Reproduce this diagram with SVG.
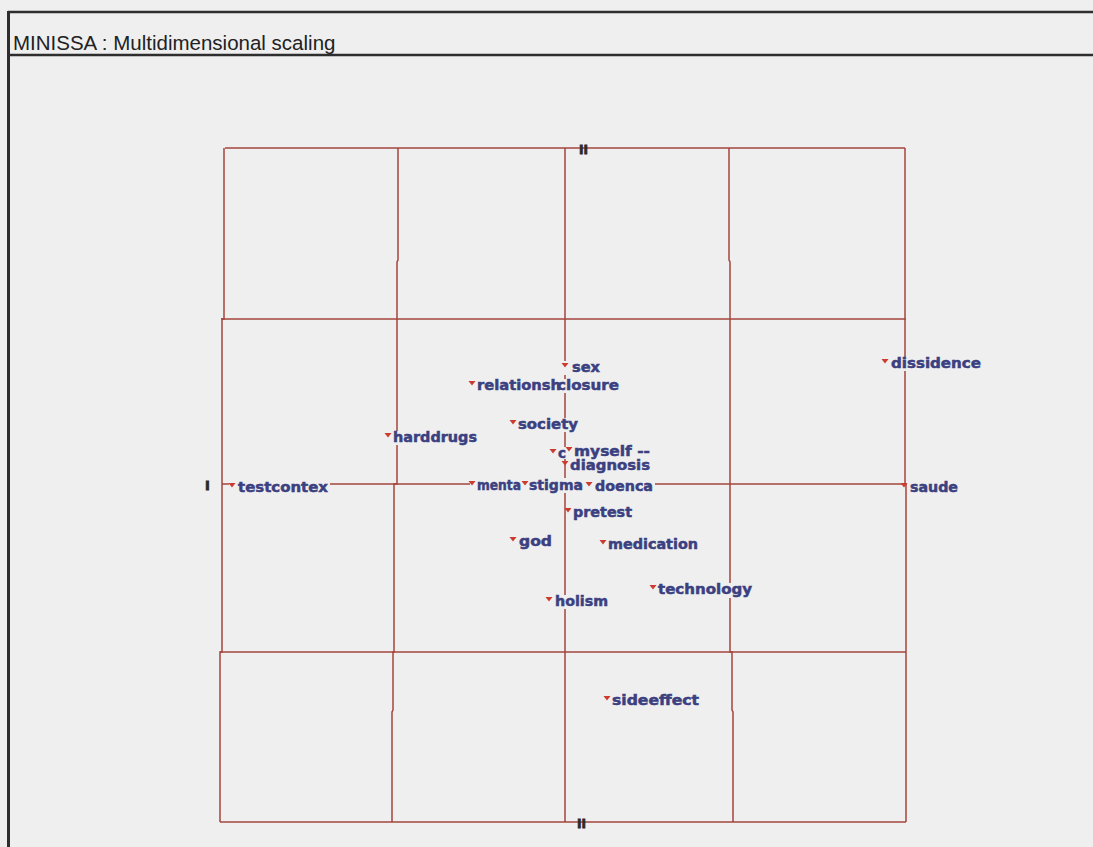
<svg xmlns="http://www.w3.org/2000/svg" xmlns:xlink="http://www.w3.org/1999/xlink" width="1093" height="847" viewBox="0 0 1093 847">
<style>
.frame{stroke:#2e2e2e;stroke-width:2.5;fill:none}
.grid{stroke:#a5453c;stroke-width:1.5;fill:none}
.lbl{font-family:"DejaVu Sans","Liberation Sans",sans-serif;font-weight:bold;font-size:14px;fill:#3b4080;stroke:#3b4080;stroke-width:0.5}
.bg{fill:#efefef}
.mk{fill:#cc3b2e}
.ax{font-family:"DejaVu Sans",sans-serif;font-weight:bold;font-size:13px;fill:#2a2a2a;stroke:#2a2a2a;stroke-width:0.8}
.title{font-family:"Liberation Sans",Arial,sans-serif;font-size:20.5px;fill:#222}
</style>
<defs>
<path id="m" d="M-3.5,0 L3.5,0 L0,4.5 Z" class="mk"/>
</defs>
<rect x="0" y="0" width="1093" height="847" fill="#efefef"/>
<g id="window">
<line class="frame" x1="8" y1="12" x2="1093" y2="12"/>
<line class="frame" x1="8" y1="55" x2="1093" y2="55"/>
<line class="frame" x1="8.5" y1="11" x2="8.5" y2="847" style="stroke-width:3"/>
<text class="title" x="13" y="50">MINISSA : Multidimensional scaling</text>
</g>
<g id="connectors">
<polyline class="grid" points="225,148 905,148"/>
<polyline class="grid" points="221,319 906,319"/>
<polyline class="grid" points="222,484 905,484"/>
<polyline class="grid" points="220,652 906,652"/>
<polyline class="grid" points="220,822 906,822"/>
<polyline class="grid" points="224,148 224,319 222,319 222,652 220,652 220,822"/>
<polyline class="grid" points="398,148 398,260 397,262 397,484 394,484 394,652 393,652 393,710 392,712 392,822"/>
<polyline class="grid" points="565,148 565,822"/>
<polyline class="grid" points="729,148 729,260 730,262 730,652 732,652 732,710 733,712 733,822"/>
<polyline class="grid" points="905,148 905,484 906,484 906,822"/>
</g>
<g id="axes">
<text class="ax" x="579" y="154" textLength="9" lengthAdjust="spacingAndGlyphs">II</text>
<text class="ax" x="577" y="828" textLength="9" lengthAdjust="spacingAndGlyphs">II</text>
<text class="ax" x="205" y="490">I</text>
</g>
<g id="node-sex"><rect class="bg" x="562" y="361" width="40" height="14"/><use href="#m" x="565" y="363"/><text class="lbl" x="572" y="372" textLength="28" lengthAdjust="spacingAndGlyphs">sex</text></g>
<g id="node-relationsh"><rect class="bg" x="469" y="379" width="94" height="14"/><use href="#m" x="472" y="381"/><text class="lbl" x="477" y="390" textLength="84" lengthAdjust="spacingAndGlyphs">relationsh</text></g>
<g id="node-closure"><rect class="bg" x="560" y="379" width="60" height="14"/><text class="lbl" x="557" y="390" textLength="62" lengthAdjust="spacingAndGlyphs">closure</text></g>
<g id="node-dissidence"><rect class="bg" x="882" y="357" width="101" height="14"/><use href="#m" x="885" y="359"/><text class="lbl" x="891" y="368" textLength="90" lengthAdjust="spacingAndGlyphs">dissidence</text></g>
<g id="node-society"><rect class="bg" x="510" y="418" width="70" height="14"/><use href="#m" x="513" y="420"/><text class="lbl" x="518" y="429" textLength="60" lengthAdjust="spacingAndGlyphs">society</text></g>
<g id="node-harddrugs"><rect class="bg" x="385" y="431" width="94" height="14"/><use href="#m" x="388" y="433"/><text class="lbl" x="393" y="442" textLength="84" lengthAdjust="spacingAndGlyphs">harddrugs</text></g>
<g id="node-c"><rect class="bg" x="550" y="447" width="18" height="12"/><use href="#m" x="553" y="449"/><text class="lbl" x="558" y="458" textLength="8" lengthAdjust="spacingAndGlyphs">c</text></g>
<g id="node-myself"><rect class="bg" x="566" y="445" width="86" height="13"/><use href="#m" x="569" y="447"/><text class="lbl" x="574" y="456" textLength="76" lengthAdjust="spacingAndGlyphs">myself --</text></g>
<g id="node-diagnosis"><rect class="bg" x="568" y="460" width="84" height="13"/><use href="#m" x="565" y="461"/><text class="lbl" x="570" y="470" textLength="80" lengthAdjust="spacingAndGlyphs">diagnosis</text></g>
<g id="node-testcontex"><rect class="bg" x="229" y="479" width="101" height="15"/><use href="#m" x="232" y="483"/><text class="lbl" x="238" y="492" textLength="90" lengthAdjust="spacingAndGlyphs">testcontex</text></g>
<g id="node-menta"><rect class="bg" x="470" y="478" width="183" height="15"/><use href="#m" x="472" y="481"/><text class="lbl" x="477" y="490" textLength="44" lengthAdjust="spacingAndGlyphs">menta</text></g>
<g id="node-stigma"><use href="#m" x="525" y="481"/><text class="lbl" x="529" y="490" textLength="54" lengthAdjust="spacingAndGlyphs">stigma</text></g>
<g id="node-doenca"><rect class="bg" x="586" y="479" width="69" height="15"/><use href="#m" x="589" y="482"/><text class="lbl" x="595" y="491" textLength="58" lengthAdjust="spacingAndGlyphs">doenca</text></g>
<g id="node-saude"><rect class="bg" x="908" y="480" width="52" height="15"/><use href="#m" x="904" y="483"/><text class="lbl" x="910" y="492" textLength="48" lengthAdjust="spacingAndGlyphs">saude</text></g>
<g id="node-pretest"><rect class="bg" x="567" y="506" width="67" height="14"/><use href="#m" x="568" y="508"/><text class="lbl" x="573" y="517" textLength="59" lengthAdjust="spacingAndGlyphs">pretest</text></g>
<g id="node-god"><rect class="bg" x="510" y="535" width="44" height="14"/><use href="#m" x="513" y="537"/><text class="lbl" x="519" y="546" textLength="33" lengthAdjust="spacingAndGlyphs">god</text></g>
<g id="node-medication"><rect class="bg" x="600" y="538" width="100" height="14"/><use href="#m" x="603" y="540"/><text class="lbl" x="608" y="549" textLength="90" lengthAdjust="spacingAndGlyphs">medication</text></g>
<g id="node-technology"><rect class="bg" x="650" y="583" width="104" height="15"/><use href="#m" x="653" y="585"/><text class="lbl" x="658" y="594" textLength="94" lengthAdjust="spacingAndGlyphs">technology</text></g>
<g id="node-holism"><rect class="bg" x="546" y="595" width="64" height="14"/><use href="#m" x="549" y="597"/><text class="lbl" x="555" y="606" textLength="53" lengthAdjust="spacingAndGlyphs">holism</text></g>
<g id="node-sideeffect"><rect class="bg" x="604" y="694" width="97" height="14"/><use href="#m" x="607" y="696"/><text class="lbl" x="612" y="705" textLength="87" lengthAdjust="spacingAndGlyphs">sideeffect</text></g>
</svg>
